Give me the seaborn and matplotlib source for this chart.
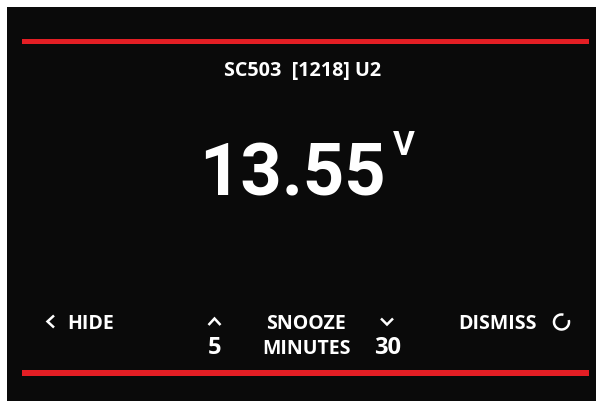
import numpy as np
import pandas as pd
import seaborn as sns
import matplotlib.pyplot as plt
from matplotlib.patches import Rectangle, Arc

# screen content
device_label = "SC503  [1218] U2"
reading_value = [13.55]
reading_unit = ["V"]
nav_labels = ["HIDE", "DISMISS"]
snooze_label = ["SNOOZE", "MINUTES"]
snooze_options = [5, 30]

BG = "#0a0a0a"
RED = "#e31e24"
FONT = ["Open Sans", "DejaVu Sans"]
BIG = ["Roboto", "DejaVu Sans"]

sns.set_theme(style="white")
plt.rcParams["font.family"] = FONT

fig = plt.figure(figsize=(5.96, 4.01), dpi=100)
fig.patch.set_facecolor("white")
ax = fig.add_axes([0, 0, 1, 1])
ax.set_xlim(0, 596)
ax.set_ylim(401, 0)
ax.axis("off")

# panel and red rules
ax.add_patch(Rectangle((7, 7), 590, 395, facecolor=BG, edgecolor="none"))
rules = pd.DataFrame({"y": [41, 373], "h": [5, 6]})
for _, r in rules.iterrows():
    ax.add_patch(Rectangle((22, r.y - r.h / 2), 567, r.h, facecolor=RED, edgecolor="none"))

# header
ax.text(303, 76, device_label, color="white", fontsize=14.2, fontweight="bold",
        ha="center", va="baseline")

# main reading
ax.text(292.5, 195, f"{reading_value[0]:.2f}", color="white", fontsize=52,
        fontweight="bold", ha="center", va="baseline", family=BIG)
ax.text(404, 155, reading_unit[0], color="white", fontsize=24,
        fontweight="bold", ha="center", va="baseline", family=BIG)

# bottom row
lab = dict(color="white", fontsize=14, fontweight="bold", va="baseline")
ax.text(67, 329, nav_labels[0], ha="left", **lab)
ax.text(537, 329, nav_labels[1], ha="right", **lab)
ax.text(306, 329, snooze_label[0], ha="center", **lab)
ax.text(306, 353.5, snooze_label[1], ha="center", **lab)
num = dict(color="white", fontsize=17, fontweight="bold", va="baseline")
ax.text(215, 354.5, str(snooze_options[0]), ha="center", **num)
ax.text(387.5, 354.5, str(snooze_options[1]), ha="center", **num)

# chevrons
kw = dict(color="white", lw=1.8, solid_capstyle="butt", solid_joinstyle="miter")
ax.plot([54, 47.5, 54], [315.5, 321.5, 327.5], **kw)
ax.plot([208.5, 214.5, 220.5], [325, 318.5, 325], **kw)
ax.plot([381, 387, 393], [318.5, 324.5, 318.5], **kw)

# refresh icon
ax.add_patch(Arc((561.5, 322), 15, 15, theta1=345, theta2=645, color="white", lw=1.8))

fig.savefig("out.png", dpi=100, facecolor=fig.get_facecolor())
